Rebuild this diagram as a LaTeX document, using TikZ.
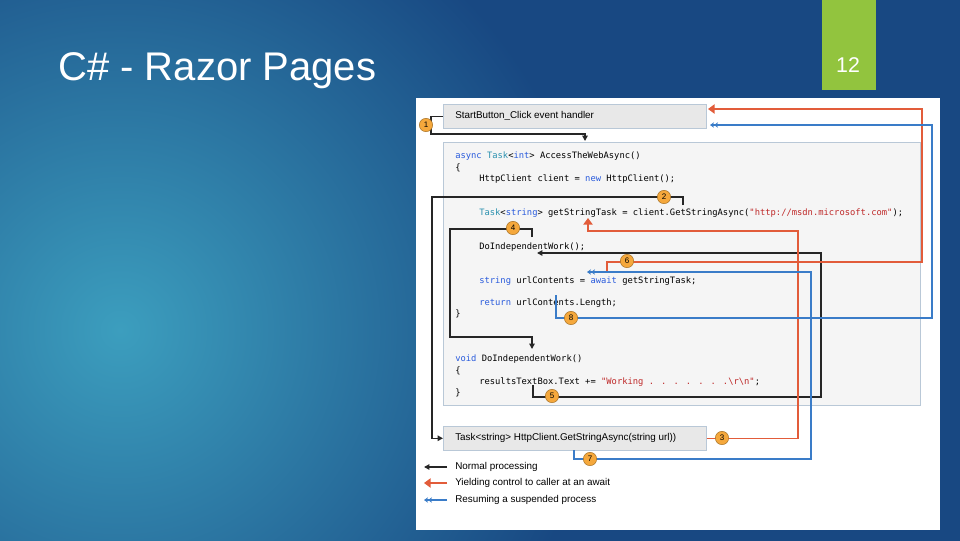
\documentclass[tikz,border=0pt]{standalone}
\usepackage{fontspec}
\setmainfont{Liberation Sans}
\newfontfamily\codefont{DejaVu Sans Mono}
\usetikzlibrary{arrows.meta}
\definecolor{bgdark}{RGB}{24,72,130}
\definecolor{bglight}{RGB}{60,158,190}
\definecolor{tabgreen}{RGB}{146,196,62}
\definecolor{kw}{RGB}{40,90,220}
\definecolor{ty}{RGB}{43,145,175}
\definecolor{st}{RGB}{190,40,40}
\definecolor{redx}{RGB}{226,92,58}
\definecolor{bluex}{RGB}{58,124,200}
\definecolor{badge}{RGB}{245,168,60}

\begin{document}
\begin{tikzpicture}[
        x=0.75pt, y=-0.75pt,
        code/.style={anchor=base west, inner sep=0pt, font=\codefont\fontsize{6.6}{7}\selectfont},
        lbl/.style={anchor=base west, inner sep=0pt, font=\fontsize{7.4}{8}\selectfont},
        sbox/.style={anchor=north west, draw={rgb,255:red,185;green,200;blue,215}, fill=black!9, minimum width=197.25pt, minimum height=18pt},
        num/.style={circle, fill=badge, draw=badge!70!black, minimum size=10pt, inner sep=0pt, font=\fontsize{6}{6}\selectfont},
        normal/.style={black!85, line width=1pt, -{Triangle[length=4pt,width=4pt]}},
        yield/.style={redx, line width=1.1pt, -{Triangle[length=5pt,width=7pt]}},
        resume/.style={bluex, line width=1.1pt, -{Stealth[length=3pt,width=4pt]Stealth[length=3pt,width=4pt]}}
    ]
    \useasboundingbox (0,0) rectangle (960,540);
    \fill[bgdark] (-2,-2) rectangle (962,542);
    \begin{scope}
        \clip (0,0) rectangle (960,540);
        \shade[inner color=bglight, outer color=bgdark] (120,330) circle (480);
    \end{scope}
    \fill[tabgreen] (822,0) rectangle (876,90);
    \node[white, font=\fontsize{16}{16}\selectfont] (pageno) at (848,65) {12};
    \node[white, anchor=base west, inner sep=0pt, font=\fontsize{30}{30}\selectfont] (title) at (58,80) {C\# - Razor Pages};

    \fill[white] (416,98) rectangle (940,530);
    \node[sbox] (start) at (443,104) {};
    \node[lbl, anchor=west] at (455,116) {StartButton\_Click event handler};
    \node[sbox, fill=black!4, minimum width=357.75pt, minimum height=197.25pt] (codebox) at (443,142) {};
    \node[sbox] (get) at (443,426) {};
    \node[lbl, anchor=west] at (455,438) {Task<string> HttpClient.GetStringAsync(string url))};

    % code lines
    \node[code] (c1) at (455,158) {\textcolor{kw}{async} \textcolor{ty}{Task}<\textcolor{kw}{int}> AccessTheWebAsync()};
    \node[code] (c2) at (455,170) {\{};
    \node[code] (c3) at (479,181) {HttpClient client = \textcolor{kw}{new} HttpClient();};
    \node[code] (c4) at (479,215) {\textcolor{ty}{Task}<\textcolor{kw}{string}> getStringTask = client.GetStringAsync(\textcolor{st}{\char34 http://msdn.microsoft.com\char34});};
    \node[code] (c5) at (479,249) {DoIndependentWork();};
    \node[code] (c6) at (479,283) {\textcolor{kw}{string} urlContents = \textcolor{kw}{await} getStringTask;};
    \node[code] (c7) at (479,305) {\textcolor{kw}{return} urlContents.Length;};
    \node[code] (c8) at (455,316) {\}};
    \node[code] (c9) at (455,361) {\textcolor{kw}{void} DoIndependentWork()};
    \node[code] (c10) at (455,373) {\{};
    \node[code] (c11) at (479,384) {resultsTextBox.Text += \textcolor{st}{\char34 Working . . . . . . .\textbackslash r\textbackslash n\char34};};
    \node[code] (c12) at (455,395) {\}};

    % control flow
    \draw[normal] (start.west) -| (431,134) -| (585,141);
    \draw[normal] (683,205) |- (432,197) |- (get.west);
    \draw[normal] (532,237) |- (450,229) |- (532,337) -- (532,349);
    \draw[normal] (533,385) |- (821,397) |- (537,253);
    \draw[yield] (get.east) -| (798,231) -| (588,218);
    \draw[yield] (607,272) |- (922,262) |- (708,109);
    \draw[resume] (574,450) |- (811,459) |- (587,272);
    \draw[resume] (556,295) |- (932,318) |- (710,125);

    \foreach \n/\x/\y in {1/426/125, 2/664/197, 3/722/438, 4/513/228, 5/552/396, 6/627/261, 7/590/459, 8/571/318} {
        \node[num] (n\n) at (\x,\y) {\n};
    }

    % legend
    \coordinate (l1) at (447,467);
    \coordinate (l2) at (447,483);
    \coordinate (l3) at (447,500);
    \draw[normal] (l1) -- (424,467);
    \draw[yield] (l2) -- (424,483);
    \draw[resume] (l3) -- (424,500);
    \node[lbl, anchor=west] at (455,467) {Normal processing};
    \node[lbl, anchor=west] at (455,483) {Yielding control to caller at an await};
    \node[lbl, anchor=west] at (455,500) {Resuming a suspended process};
\end{tikzpicture}
\end{document}
